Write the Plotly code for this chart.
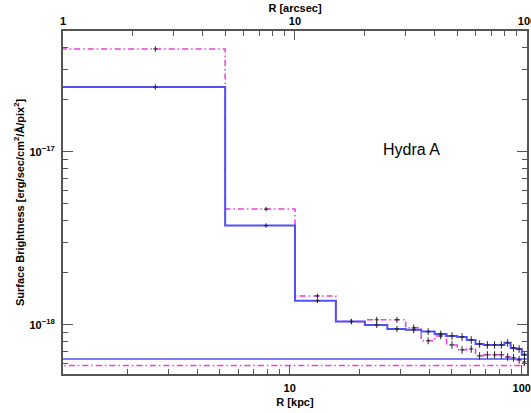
import math
import plotly.graph_objects as go

# ---- data ----
KPC_PER_ARCSEC = 1.054  # Hydra A scale
bin_lo_arcsec = [0, 5, 10, 15, 20, 25, 30, 35, 40, 45, 50, 55, 60, 65, 70, 75, 80, 85, 90, 95]
bin_hi_arcsec = 100
model_sb = [2.37e-17, 3.75e-18, 1.38e-18, 1.045e-18, 1.0e-18, 9.48e-19, 9.36e-19, 9.15e-19,
            8.87e-19, 8.63e-19, 8.52e-19, 8.19e-19, 7.76e-19, 7.66e-19, 7.66e-19, 7.66e-19,
            7.87e-19, 7.36e-19, 7.26e-19, 6.71e-19]
data_sb = [3.94e-17, 4.67e-18, 1.47e-18, 1.047e-18, 1.07e-18, 1.07e-18, 9.61e-19, 8.09e-19,
           8.63e-19, 7.66e-19, 7.17e-19, 7.26e-19, 6.62e-19, 6.71e-19, 6.71e-19, 6.71e-19,
           6.53e-19, 6.45e-19, 6.28e-19, 6.11e-19]
err_pct = [3.5, 3.0, 3.0, 3.5, 4.0, 4.0, 4.5, 4.5, 4.5, 5.0, 5.0, 5.0, 5.0, 5.0, 5.0, 5.0,
           5.0, 5.0, 5.0, 5.0]
bg_model = 6.34e-19
bg_data = 5.82e-19

y_tick_vals = [1e-18, 1e-17]
y_tick_text = ["10<sup>\u221218</sup>", "10<sup>\u221217</sup>"]

BLUE = "#5050f5"
MAGENTA = "#f03cdc"
AX = "#555555"
FONT = "Liberation Sans, Arial, sans-serif"

# step coordinates (in kpc)
x_steps = [max(e, 0.5) * KPC_PER_ARCSEC for e in bin_lo_arcsec] + [bin_hi_arcsec * KPC_PER_ARCSEC]
bin_hi_list = bin_lo_arcsec[1:] + [bin_hi_arcsec]
centers = [(lo + hi) / 2 * KPC_PER_ARCSEC for lo, hi in zip(bin_lo_arcsec, bin_hi_list)]

fig = go.Figure()

# background levels
fig.add_trace(go.Scatter(x=[0.5, 300], y=[bg_model, bg_model], mode="lines",
                         line=dict(color=BLUE, width=1.5), showlegend=False))
fig.add_trace(go.Scatter(x=[0.5, 300], y=[bg_data, bg_data], mode="lines",
                         line=dict(color=MAGENTA, width=1.5, dash="6px,3px,1.5px,3px"), showlegend=False))

# step profiles
fig.add_trace(go.Scatter(x=x_steps, y=data_sb + [data_sb[-1]], mode="lines", line_shape="hv",
                         line=dict(color=MAGENTA, width=1.5, dash="6px,3px,1.5px,3px"), showlegend=False))
fig.add_trace(go.Scatter(x=x_steps, y=model_sb + [model_sb[-1]], mode="lines", line_shape="hv",
                         line=dict(color=BLUE, width=2), showlegend=False))

# error crosses
for vals in (data_sb, model_sb):
    errs = [v * p / 100 for v, p in zip(vals, err_pct)]
    fig.add_trace(go.Scatter(
        x=centers, y=vals, mode="markers",
        marker=dict(symbol="line-ew", size=3, color="#222", line=dict(width=1, color="#222")),
        error_y=dict(type="data", array=errs, arrayminus=errs, color="#222", thickness=1, width=0),
        showlegend=False))

# dummy trace for top axis
fig.add_trace(go.Scatter(x=[10], y=[1e-17], xaxis="x2", mode="markers",
                         marker=dict(opacity=0), showlegend=False, hoverinfo="skip"))

minor_decades = [2, 3, 4, 5, 6, 7, 8, 9]
fig.update_layout(
    width=531, height=413,
    margin=dict(l=63, r=4, t=31, b=39),
    paper_bgcolor="white", plot_bgcolor="white",
    font=dict(family=FONT, color="black", size=10),
    xaxis=dict(
        type="log", range=[math.log10(KPC_PER_ARCSEC), math.log10(100 * KPC_PER_ARCSEC)],
        tickvals=[10, 100], ticktext=["10", "100"], ticks="inside", ticklen=9, tickwidth=1,
        tickcolor=AX, showline=True, linecolor=AX, linewidth=2, mirror=False, showgrid=False,
        zeroline=False, tickfont=dict(size=11, weight="bold"), ticklabelstandoff=3,
        ticklabeloverflow="allow", automargin=False,
        minor=dict(tickvals=minor_decades + [10 * m for m in minor_decades],
                   ticks="inside", ticklen=5, tickcolor=AX, showgrid=False),
        title=dict(text="R [kpc]", font=dict(size=11, weight="bold"), standoff=5),
    ),
    xaxis2=dict(
        type="log", range=[0, 2.0002], overlaying="x", side="top", anchor="y",
        tickvals=[1, 10, 100], ticktext=["1", "10", "100"], ticks="inside", ticklen=9, tickwidth=1,
        tickcolor=AX, showline=True, linecolor=AX, linewidth=2, showgrid=False, zeroline=False,
        tickfont=dict(size=11, weight="bold"), ticklabelstandoff=0, ticklabeloverflow="allow",
        automargin=False,
        minor=dict(tickvals=minor_decades + [10 * m for m in minor_decades],
                   ticks="inside", ticklen=5, tickcolor=AX, showgrid=False),
        title=dict(text="R [arcsec]", font=dict(size=11, weight="bold"), standoff=0),
    ),
    yaxis=dict(
        type="log", range=[math.log10(5.2e-19), math.log10(5e-17)],
        tickvals=y_tick_vals, ticktext=y_tick_text, ticks="inside", ticklen=10, tickwidth=1,
        tickcolor=AX, showline=True, linecolor=AX, linewidth=2, mirror="ticks", showgrid=False,
        zeroline=False, tickfont=dict(size=11, weight="bold"), ticklabelstandoff=4,
        automargin=False,
        minor=dict(tickvals=[m * 1e-19 for m in [6, 7, 8, 9]] + [m * 1e-18 for m in minor_decades]
                   + [m * 1e-17 for m in [2, 3, 4]],
                   ticks="inside", ticklen=5, tickcolor=AX, showgrid=False),
        title=dict(text="Surface Brightness [erg/sec/cm<sup>2</sup>/\u00c5/pix<sup>2</sup>]",
                   font=dict(size=11, weight="bold"), standoff=3),
    ),
    annotations=[dict(text="Hydra A", xref="paper", yref="paper", x=0.752, y=0.654,
                      xanchor="center", yanchor="middle",
                      showarrow=False, font=dict(size=16, color="black", family=FONT))],
)

fig.write_html("out.html")
